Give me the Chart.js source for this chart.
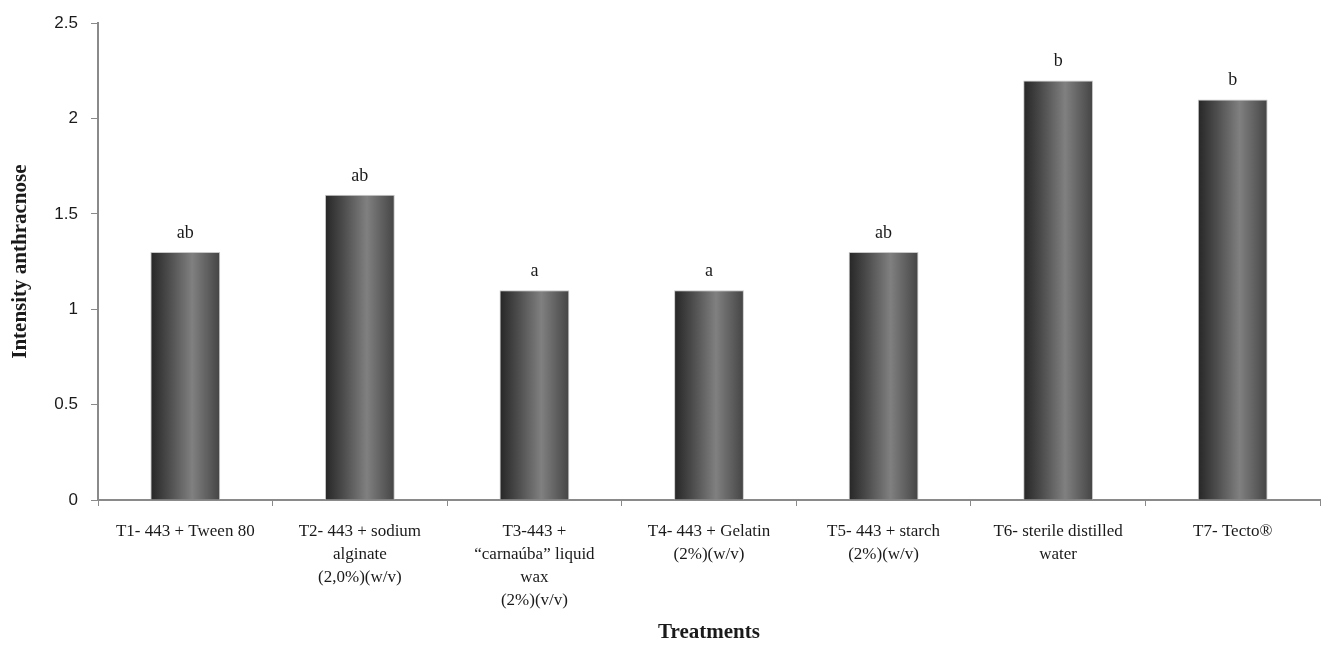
<!DOCTYPE html>
<html>
<head>
<meta charset="utf-8">
<script src="https://cdn.jsdelivr.net/npm/chart.js@4"></script>
<style>
html,body{margin:0;padding:0;background:#fff;}
#wrap{width:1328px;height:645px;position:relative;}
</style>
</head>
<body>
<div id="wrap"><canvas id="c" width="1328" height="645"></canvas></div>
<script>
const categories = [
  ["T1- 443 + Tween 80"],
  ["T2- 443 + sodium", "alginate", "(2,0%)(w/v)"],
  ["T3-443 +", "\u201Ccarnaúba\u201D liquid", "wax", "(2%)(v/v)"],
  ["T4- 443 + Gelatin", "(2%)(w/v)"],
  ["T5- 443 + starch", "(2%)(w/v)"],
  ["T6- sterile distilled", "water"],
  ["T7- Tecto®"]
];
const intensity = [1.3, 1.6, 1.1, 1.1, 1.3, 2.2, 2.1];
const letters = ["ab", "ab", "a", "a", "ab", "b", "b"];
const yTicks = [0, 0.5, 1, 1.5, 2, 2.5];

const SERIF = "'Liberation Serif', 'DejaVu Serif', serif";
const BAR_PCT = 0.4;

function barGradient(ctx) {
  const chart = ctx.chart;
  const xs = chart.scales && chart.scales.x;
  if (!xs || ctx.dataIndex === undefined) return '#555';
  const cx = xs.getPixelForValue(ctx.dataIndex);
  const w = xs.width / categories.length * BAR_PCT;
  if (!isFinite(cx) || !isFinite(w)) return '#555';
  const g = chart.ctx.createLinearGradient(cx - w / 2, 0, cx + w / 2, 0);
  g.addColorStop(0, '#262626');
  g.addColorStop(0.25, '#4a4a4a');
  g.addColorStop(0.6, '#808080');
  g.addColorStop(1, '#444444');
  return g;
}

const letterPlugin = {
  id: 'letters',
  afterDatasetsDraw(chart) {
    const meta = chart.getDatasetMeta(0);
    const c = chart.ctx;
    c.save();
    c.font = "18px " + SERIF;
    c.fillStyle = '#1a1a1a';
    c.textAlign = 'center';
    c.textBaseline = 'middle';
    meta.data.forEach((el, i) => {
      c.fillText(letters[i], el.x, el.y - 19);
    });
    c.restore();
  }
};

new Chart(document.getElementById('c'), {
  type: 'bar',
  data: {
    labels: categories,
    datasets: [{
      data: intensity,
      backgroundColor: barGradient,
      borderColor: '#c8c8c8',
      borderWidth: 1,
      barPercentage: BAR_PCT,
      categoryPercentage: 1.0
    }]
  },
  options: {
    responsive: false,
    animation: false,
    events: [],
    layout: { padding: { top: 16, right: 8, bottom: 0, left: 0 } },
    plugins: { legend: { display: false }, tooltip: { enabled: false } },
    scales: {
      x: {
        grid: { drawOnChartArea: false, drawTicks: true, tickLength: 6, color: '#8a8a8a', offset: true },
        border: { color: '#8a8a8a', width: 2 },
        ticks: {
          color: '#1a1a1a',
          font: { family: SERIF, size: 17, lineHeight: 1.35 },
          padding: 14,
          maxRotation: 0,
          autoSkip: false
        },
        title: {
          display: true,
          text: 'Treatments',
          color: '#1a1a1a',
          font: { family: SERIF, size: 21, weight: 'bold' },
          padding: { top: 0, bottom: 0 }
        },
        afterFit(scale) { scale.height = 145; }
      },
      y: {
        min: 0, max: 2.5,
        afterBuildTicks(scale) { scale.ticks = yTicks.map(v => ({ value: v })); },
        grid: { drawOnChartArea: false, drawTicks: true, tickLength: 7, color: '#8a8a8a' },
        border: { color: '#8a8a8a', width: 2 },
        ticks: {
          color: '#1a1a1a',
          font: { family: "'Liberation Sans', Arial, sans-serif", size: 17 },
          padding: 13,
          callback: v => String(v)
        },
        title: {
          display: true,
          text: 'Intensity anthracnose',
          color: '#1a1a1a',
          font: { family: SERIF, size: 21, weight: 'bold' },
          padding: { top: 8, bottom: 0 }
        },
        afterFit(scale) { scale.width = 98; }
      }
    }
  },
  plugins: [letterPlugin]
});
</script>
</body>
</html>
